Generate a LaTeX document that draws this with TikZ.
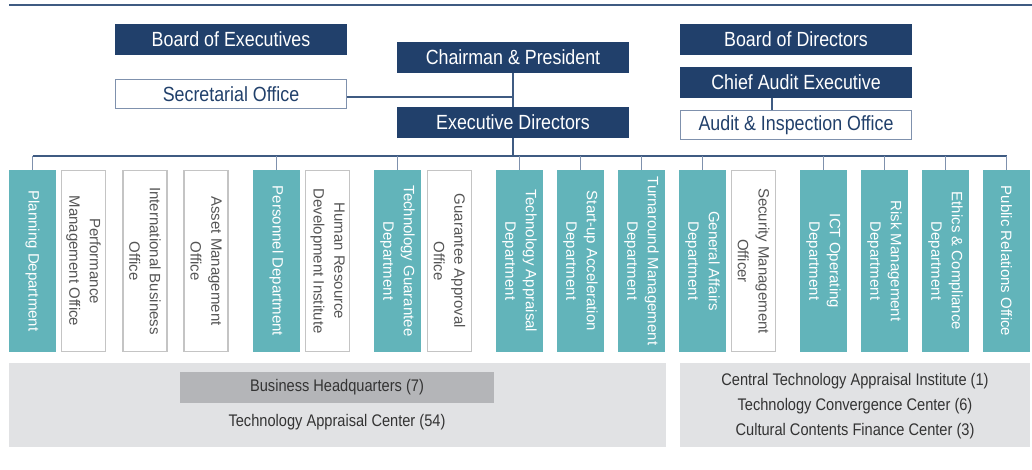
\documentclass[tikz,border=0pt]{standalone}
\usepackage{fontspec}
\setmainfont{Liberation Sans}[FakeStretch=0.87]
\newfontfamily\colfont{Liberation Sans}
\definecolor{navy}{HTML}{21406B}
\definecolor{tealc}{HTML}{62B4BA}
\definecolor{lineblue}{HTML}{3F5B82}
\definecolor{framegray}{HTML}{7F91AD}
\definecolor{boxgray}{HTML}{C4C4C4}
\definecolor{txtgray}{HTML}{555555}
\definecolor{panelgray}{HTML}{E1E2E4}
\definecolor{hqgray}{HTML}{B4B5B8}
\definecolor{darktxt}{HTML}{333333}
\begin{document}
\begin{tikzpicture}[x=1pt,y=-1pt,
  topfont/.style={font=\fontsize{20.5}{24}\selectfont},
  navybox/.style={topfont, fill=navy, text=white, inner sep=0pt, minimum width=232pt, minimum height=31pt},
  outbox/.style={topfont, draw=framegray, line width=1.2pt, fill=white, text=navy, inner sep=0pt, minimum width=231pt, minimum height=29pt},
  colbase/.style={rotate=-90, align=center, inner sep=0pt, minimum width=182pt,
    font=\colfont\fontsize{15}{20.7}\selectfont},
  tealbox/.style={colbase, fill=tealc, text=white, minimum height=47pt},
  wbox/.style={colbase, draw=boxgray, line width=1.2pt, fill=white, text=txtgray, minimum width=181pt, minimum height=44pt},
  conn/.style={draw=lineblue, line width=1.3pt},
  tick/.style={draw=framegray, line width=1.3pt},
  botfont/.style={font=\fontsize{16.8}{20}\selectfont, text=darktxt, inner sep=0pt}]
\useasboundingbox (0,0) rectangle (1032,470);

% top rule
\coordinate (ruleL) at (9,5);
\coordinate (ruleR) at (1032,5);
\draw[lineblue, line width=2pt] (ruleL) -- (ruleR);

% top boxes
\node[navybox] (boe)   at (231,39.5)  {Board of Executives};
\node[navybox] (chair) at (513,57.5)  {Chairman \& President};
\node[outbox]  (sec)   at (231,94)    {Secretarial Office};
\node[navybox] (exec)  at (513,122.5) {Executive Directors};
\node[navybox] (bod)   at (796,39.5)  {Board of Directors};
\node[navybox] (cae)   at (796,82.5)  {Chief Audit Executive};
\node[outbox]  (aio)   at (796,125)   {Audit \& Inspection Office};

% columns
\node[tealbox] (pl)  at (32.5,261)  {Planning Department};
\node[wbox]    (pmo) at (83.5,261)  {Performance\\Management Office};
\node[wbox]    (ibo) at (145,261)   {International Business\\Office};
\node[wbox]    (amo) at (206,261)   {Asset Management\\Office};
\node[tealbox] (pe)  at (276.5,261) {Personnel Department};
\node[wbox]    (hr)  at (327.5,261) {Human Resource\\Development Institute};
\node[tealbox] (tg)  at (397.5,261) {Technology Guarantee\\Department};
\node[wbox]    (ga)  at (449.5,261) {Guarantee Approval\\Office};
\node[tealbox] (ta)  at (519.5,261) {Technology Appraisal\\Department};
\node[tealbox] (sa)  at (580.5,261) {Start-up Acceleration\\Department};
\node[tealbox] (tm)  at (641.5,261) {Turnaround Management\\Department};
\node[tealbox] (gen) at (702.5,261) {General Affairs\\Department};
\node[wbox]    (smo) at (753.5,261) {Security Management\\Officer};
\node[tealbox] (ict) at (823.5,261) {ICT Operating\\Department};
\node[tealbox] (rm)  at (884.5,261) {Risk Management\\Department};
\node[tealbox] (ec)  at (945.5,261) {Ethics \& Compliance\\Department};
\node[tealbox] (pr)  at (1006.5,261){Public Relations Office};

% connectors
\coordinate (bus) at (0,156);
\draw[conn] (chair.south) -- (exec.north);
\draw[conn] ([yshift=-3pt]sec.east) -- ([yshift=-3pt]sec.east -| chair.south);
\draw[conn] (exec.south) -- (exec.south |- bus);
\draw[conn] (pl.west |- bus) -- (pr.west |- bus);
\foreach \n in {pl,pe,tg,ta,sa,tm,gen,ict,rm,ec,pr}
  \draw[tick] (\n.west) -- (\n.west |- bus);
\draw[conn] ([xshift=-24pt]cae.south) -- ([xshift=-24pt]aio.north);

% bottom panels
\node[fill=panelgray, minimum width=657pt, minimum height=84pt, inner sep=0pt] (lp) at (337.5,405) {};
\node[fill=hqgray, minimum width=314pt, minimum height=31pt, botfont] (hq) at (337,387.5) {Business Headquarters (7)};
\node[botfont] (tac) at (337,422) {Technology Appraisal Center (54)};
\node[fill=panelgray, minimum width=350pt, minimum height=84pt, inner sep=0pt] (rp) at (855,405) {};
\node[botfont] (cta) at (855,381) {Central Technology Appraisal Institute (1)};
\node[botfont] (tcc) at (855,406.5) {Technology Convergence Center (6)};
\node[botfont] (ccf) at (855,431) {Cultural Contents Finance Center (3)};
\end{tikzpicture}
\end{document}
